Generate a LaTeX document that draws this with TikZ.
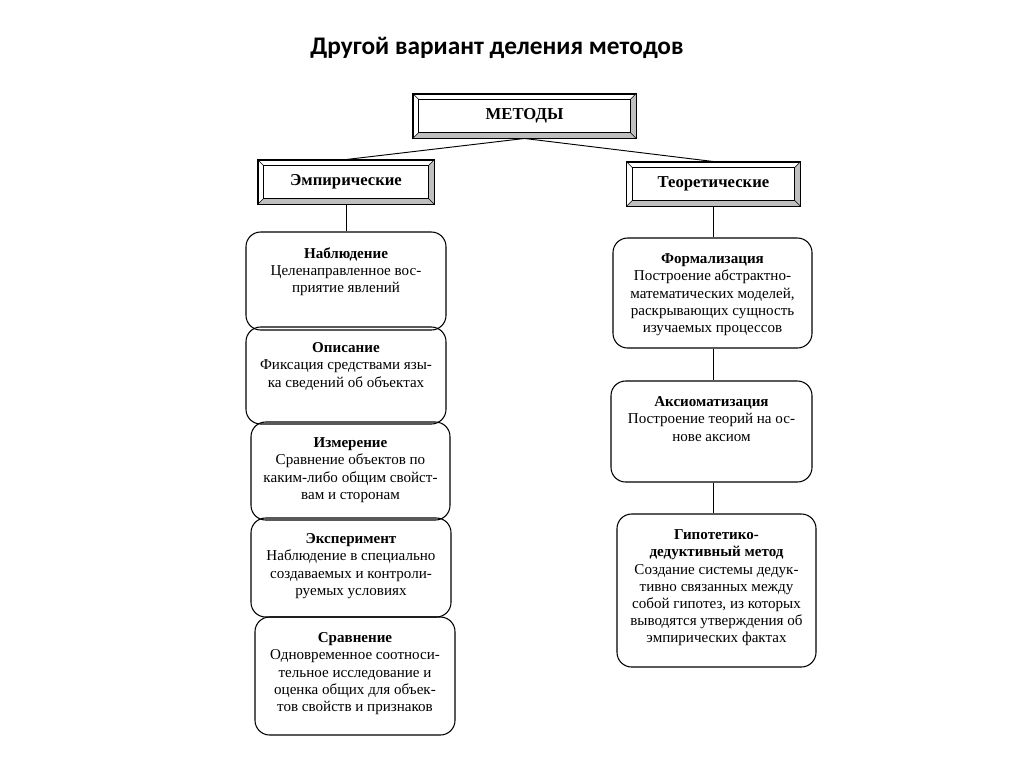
\documentclass[tikz,border=0pt]{standalone}
\usepackage{fontspec}
\setmainfont{Liberation Serif}
\newfontfamily\titlefont{Carlito}
\usetikzlibrary{calc}
\usetikzlibrary{positioning}

\tikzset{
    bevelframe/.style={draw, line width=0.7pt, minimum height=33pt, inner sep=0pt},
    method/.style={draw, line width=0.8pt, rounded corners=11pt, inner sep=0pt},
    methodtext/.style={anchor=north, align=center, inner sep=0pt, font=\fontsize{11.3}{12.9}\selectfont},
    link/.style={line width=0.7pt}
}

% name, position, width, font, text
\newcommand{\bevelbox}[5]{
    \node[bevelframe, minimum width=#3] (#1) at #2 {};
    \fill[gray!50] (#1.south west) -- ([shift={(4.5pt,4.5pt)}]#1.south west)
        -- ([shift={(-4.5pt,4.5pt)}]#1.south east) -- ([shift={(-4.5pt,-4.5pt)}]#1.north east)
        -- (#1.north east) -- (#1.south east) -- cycle;
    \draw[line width=0.7pt] (#1.south west) rectangle (#1.north east);
    \draw[line width=0.5pt] ([shift={(4.5pt,4.5pt)}]#1.south west) rectangle ([shift={(-4.5pt,-4.5pt)}]#1.north east);
    \foreach \corner/\dx/\dy in {south west/4.5/4.5, south east/-4.5/4.5, north east/-4.5/-4.5, north west/4.5/-4.5}
        \draw[line width=0.4pt] (#1.\corner) -- ([shift={(\dx pt,\dy pt)}]#1.\corner);
    \node[font=#4] (#1-text) at (#1) {#5};
}

\begin{document}
\begin{tikzpicture}[x=0.75pt,y=-0.75pt]
        \useasboundingbox (0,0) rectangle (1024,768);

        \node[font=\titlefont\bfseries\fontsize{19}{22}\selectfont] (title) at (497,48) {Другой вариант деления методов};

        \bevelbox{metody}{(524.5,116)}{167pt}{\bfseries\fontsize{12.5}{14}\selectfont}{МЕТОДЫ}
        \bevelbox{emp}{(346,182)}{132pt}{\bfseries\fontsize{12.5}{14}\selectfont}{Эмпирические}
        \bevelbox{teor}{(713.5,184)}{130pt}{\bfseries\fontsize{12.5}{14}\selectfont}{Теоретические}

        \draw[link] (metody.south) -- (emp.north);
        \draw[link] (metody.south) -- (teor.north);

        % empirical methods
        \node[method, minimum width=150pt, minimum height=73.5pt] (nabl) at (346,281) {};
        \node[method, minimum width=150pt, minimum height=72.75pt] (opis) at (346,375.5) {};
        \node[method, minimum width=149.25pt, minimum height=73.5pt] (izm) at (350.5,471) {};
        \node[method, minimum width=150pt, minimum height=74.25pt] (eksp) at (351,567.5) {};
        \node[method, minimum width=150pt, minimum height=88.5pt] (srav) at (355,676) {};

        \node[methodtext] (nabl-text) at ([yshift=-12pt]nabl.north) {\textbf{Наблюдение}\\Целенаправленное вос-\\приятие явлений};
        \node[methodtext] (opis-text) at ([yshift=-12pt]opis.north) {\textbf{Описание}\\Фиксация средствами язы-\\ка сведений об объектах};
        \node[methodtext] (izm-text) at ([yshift=-12pt]izm.north) {\textbf{Измерение}\\Сравнение объектов по\\каким-либо общим свойст-\\вам и сторонам};
        \node[methodtext] (eksp-text) at ([yshift=-12pt]eksp.north) {\textbf{Эксперимент}\\Наблюдение в специально\\создаваемых и контроли-\\руемых условиях};
        \node[methodtext] (srav-text) at ([yshift=-12pt]srav.north) {\textbf{Сравнение}\\Одновременное соотноси-\\тельное исследование и\\оценка общих для объек-\\тов свойств и признаков};

        % theoretical methods
        \node[method, minimum width=149.25pt, minimum height=82.5pt] (form) at (712.5,293) {};
        \node[method, minimum width=150.75pt, minimum height=75.75pt] (aks) at (711.5,431.5) {};
        \node[method, minimum width=149.25pt, minimum height=114.75pt] (gip) at (716.5,590.5) {};

        \node[methodtext] (form-text) at ([yshift=-12pt]form.north) {\textbf{Формализация}\\Построение абстрактно-\\математических моделей,\\раскрывающих сущность\\изучаемых процессов};
        \node[methodtext] (aks-text) at ([yshift=-12pt]aks.north) {\textbf{Аксиоматизация}\\Построение теорий на ос-\\нове аксиом};
        \node[methodtext] (gip-text) at ([yshift=-12pt]gip.north) {\textbf{Гипотетико-}\\\textbf{дедуктивный метод}\\Создание системы дедук-\\тивно связанных между\\собой гипотез, из которых\\выводятся утверждения об\\эмпирических фактах};

        \draw[link] (emp.south) -- (emp.south |- nabl.north);
        \draw[link] (teor.south) -- (teor.south |- form.north);
        \draw[link] (form.south -| teor.south) -- (teor.south |- aks.north);
        \draw[link] (aks.south -| teor.south) -- (teor.south |- gip.north);
\end{tikzpicture}
\end{document}
